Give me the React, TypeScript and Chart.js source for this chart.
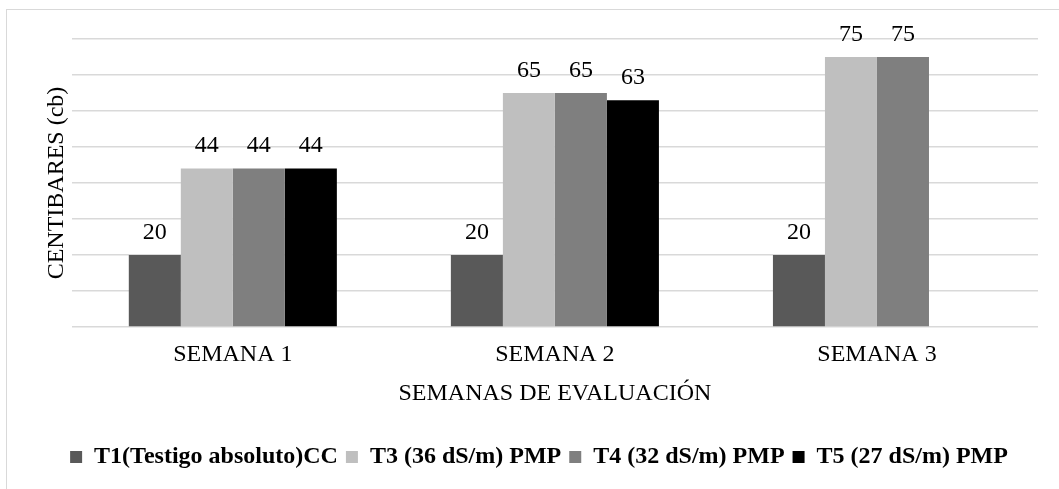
import React, { useEffect, useRef } from 'react';
import { Chart, registerables } from 'chart.js';

Chart.register(...registerables);

const categories = ['SEMANA 1', 'SEMANA 2', 'SEMANA 3'];
const seriesNames = ['T1(Testigo absoluto)CC', 'T3 (36 dS/m) PMP', 'T4 (32 dS/m) PMP', 'T5 (27 dS/m) PMP'];
const t1Values = [20, 20, 20];
const t3Values = [44, 65, 75];
const t4Values = [44, 65, 75];
const t5Values: (number | null)[] = [44, 63, null];
const seriesColors = ['#595959', '#bfbfbf', '#7f7f7f', '#000000'];
const yAxisTitle = 'CENTIBARES (cb)';
const xAxisTitle = 'SEMANAS DE EVALUACIÓN';

const FONT = '"Liberation Serif", "Times New Roman", serif';

const dataLabelPlugin = {
  id: 'dataLabels',
  afterDatasetsDraw(chart: any) {
    const ctx = chart.ctx;
    ctx.save();
    ctx.font = `24px ${FONT}`;
    ctx.fillStyle = '#000';
    ctx.textAlign = 'center';
    ctx.textBaseline = 'alphabetic';
    chart.data.datasets.forEach((ds: any, i: number) => {
      const meta = chart.getDatasetMeta(i);
      meta.data.forEach((el: any, j: number) => {
        const v = ds.data[j];
        if (v === null || v === undefined) return;
        ctx.fillText(String(v), el.x, el.y - 16.5);
      });
    });
    ctx.restore();
  },
};

export default function App() {
  const canvasRef = useRef<HTMLCanvasElement>(null);

  useEffect(() => {
    if (!canvasRef.current) return;
    const allSeries = [t1Values, t3Values, t4Values, t5Values];
    const chart = new Chart(canvasRef.current, {
      type: 'bar',
      data: {
        labels: categories,
        datasets: allSeries.map((vals, i) => ({
          label: seriesNames[i],
          data: vals,
          backgroundColor: seriesColors[i],
          borderWidth: 0,
          categoryPercentage: 0.646,
          barPercentage: 1,
        })),
      },
      options: {
        animation: false,
        responsive: true,
        maintainAspectRatio: false,
        layout: { padding: { left: 40, right: 21, top: 39, bottom: 10 } },
        plugins: {
          tooltip: { enabled: false },
          legend: {
            position: 'bottom',
            labels: {
              boxWidth: 12,
              boxHeight: 12,
              padding: 8,
              color: '#000',
              font: { family: FONT, size: 24, weight: 'bold' },
            },
          },
        },
        scales: {
          x: {
            grid: { display: false, drawTicks: false },
            border: { display: false },
            ticks: { color: '#000', padding: 13.6, font: { family: FONT, size: 24 } },
            title: {
              display: true,
              text: xAxisTitle,
              color: '#000',
              font: { family: FONT, size: 24 },
              padding: { top: 4, bottom: 28.6 },
            },
            afterFit(scale: any) {
              scale.height = 110;
            },
          },
          y: {
            min: 0,
            max: 80,
            ticks: { display: false, stepSize: 10 },
            grid: { color: '#d9d9d9', lineWidth: 1.5, drawTicks: false },
            border: { display: false },
            title: {
              display: true,
              text: yAxisTitle,
              color: '#000',
              font: { family: FONT, size: 24 },
              padding: { top: 2, bottom: 1 },
            },
          },
        },
      },
      plugins: [dataLabelPlugin],
    });
    return () => chart.destroy();
  }, []);

  return (
    <div style={{ position: 'fixed', left: 0, top: 0, width: 1059, height: 489, overflow: 'hidden', background: '#fff' }}>
      <div
        style={{
          position: 'absolute',
          left: 6,
          top: 9,
          width: 1100,
          height: 600,
          border: '1px solid #d9d9d9',
          boxSizing: 'border-box',
        }}
      />
      <div style={{ position: 'absolute', left: 0, top: 0, width: 1059, height: 489 }}>
        <canvas ref={canvasRef} />
      </div>
    </div>
  );
}
